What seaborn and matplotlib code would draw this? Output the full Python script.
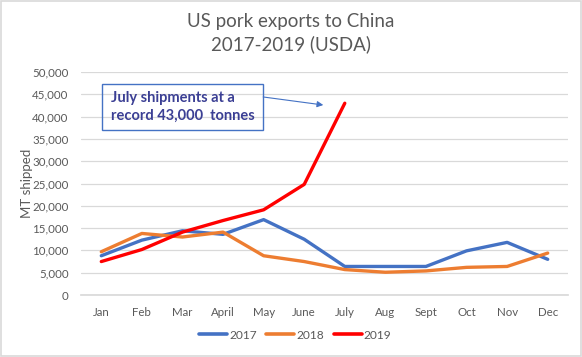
import matplotlib
matplotlib.use("Agg")
import matplotlib.pyplot as plt
import seaborn as sns
import pandas as pd
from matplotlib.patches import Rectangle

months = ["Jan", "Feb", "Mar", "April", "May", "June", "July", "Aug", "Sept", "Oct", "Nov", "Dec"]
exports_2017 = [8800, 12300, 14400, 13600, 16900, 12500, 6400, 6400, 6400, 9900, 11800, 8000]
exports_2018 = [9700, 13800, 13000, 14100, 8800, 7500, 5700, 5100, 5400, 6200, 6400, 9400]
exports_2019 = [7500, 10200, 14100, 16700, 19100, 24800, 43000]
years = ["2017", "2018", "2019"]
colors = ["#4472C4", "#ED7D31", "#FF0000"]
yticks = list(range(0, 50001, 5000))

rows = []
for yr, vals in zip(years, [exports_2017, exports_2018, exports_2019]):
    for i, v in enumerate(vals):
        rows.append({"month": months[i], "idx": i, "year": yr, "value": v})
df = pd.DataFrame(rows)

sns.set_theme(style="white")
plt.rcParams["font.family"] = ["Lato", "DejaVu Sans"]

fig = plt.figure(figsize=(5.82, 3.57), dpi=100)
ax = fig.add_axes([81 / 582, 1 - 295 / 357, (568 - 81) / 582, (295 - 72) / 357])

sns.lineplot(data=df, x="idx", y="value", hue="year", palette=colors,
             linewidth=2.4, ax=ax, sort=False)

ax.set_xlim(-0.5, 11.5)
ax.set_ylim(0, 50000)
ax.set_yticks(yticks)
ax.set_yticklabels([f"{t:,}" for t in yticks])
ax.set_xticks(range(len(months)))
ax.set_xticklabels(months)
ax.tick_params(axis="both", length=0, labelsize=8.3, colors="#595959")
ax.tick_params(axis="y", pad=9)
ax.tick_params(axis="x", pad=9)
ax.grid(axis="y", color="#D9D9D9", linewidth=0.9)
ax.set_axisbelow(True)
for s in ax.spines.values():
    s.set_visible(False)
ax.spines["bottom"].set_visible(True)
ax.spines["bottom"].set_color("#D9D9D9")
ax.set_xlabel("")
ax.set_ylabel("")
fig.text(27 / 582, 1 - 183 / 357, "MT shipped", rotation=90, fontsize=9.5,
         color="#595959", ha="center", va="center")

fig.text(0.5, 1 - 22 / 357, "US pork exports to China", fontsize=13.5,
         color="#595959", ha="center", va="center")
fig.text(0.5, 1 - 44 / 357, "2017-2019 (USDA)", fontsize=13.5,
         color="#595959", ha="center", va="center")

leg = ax.legend(loc="center", bbox_to_anchor=(0.44, -0.18), ncol=3, frameon=False,
                fontsize=8.6, handlelength=2.35, columnspacing=0.8, handletextpad=0.15)
for t in leg.get_texts():
    t.set_color("#595959")
for l in leg.get_lines():
    l.set_linewidth(2.6)

# annotation box
ax.add_patch(Rectangle((0.02, 37000), 3.97, 10300, fill=False, edgecolor="#4472C4",
                       linewidth=1.0, zorder=5))
ax.text(0.25, 42200, "July shipments at a\nrecord 43,000  tonnes", fontsize=10.5,
        fontweight="bold", color="#3B3F94", va="center", ha="left", linespacing=1.3, zorder=6)
ax.annotate("", xy=(5.47, 42600), xytext=(3.99, 44400),
            arrowprops=dict(arrowstyle="-|>", color="#4472C4", lw=0.8,
                            mutation_scale=9, shrinkA=0, shrinkB=0))

# outer chart border
fig.patches.append(Rectangle((0.001, 0.002), 0.997, 0.995, transform=fig.transFigure,
                             fill=False, edgecolor="#D9D9D9", linewidth=1.2))

fig.savefig("out.png", dpi=100)
